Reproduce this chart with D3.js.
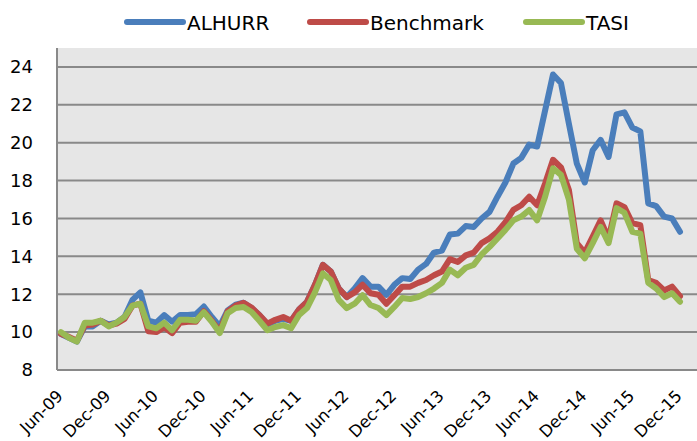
<!DOCTYPE html>
<html><head><meta charset="utf-8">
<script src="https://cdn.jsdelivr.net/npm/d3@7"></script>
<style>body{margin:0;background:#fff}svg text{font-family:"DejaVu Sans",Verdana,sans-serif;fill:#000}</style>
</head><body><svg id="c" width="697" height="441"></svg>
<script>
const months = (function(){const m=["Jan","Feb","Mar","Apr","May","Jun","Jul","Aug","Sep","Oct","Nov","Dec"];const out=[];for(let y=2009,k=5;out.length<79;){out.push(m[k]+"-"+String(y).slice(2));k++;if(k===12){k=0;y++;}}return out;})();
const xTickLabels = ["Jun-09","Dec-09","Jun-10","Dec-10","Jun-11","Dec-11","Jun-12","Dec-12","Jun-13","Dec-13","Jun-14","Dec-14","Jun-15","Dec-15"];
const yTicks = [8,10,12,14,16,18,20,22,24];
const seriesNames = ["ALHURR","Benchmark","TASI"];
const seriesColors = ["#4A7EBB","#BE4B48","#98B954"];
const alhurr = [9.9,9.7,9.5,10.3,10.3,10.6,10.4,10.5,10.8,11.7,12.1,10.6,10.5,10.9,10.55,10.9,10.9,10.95,11.35,10.8,10.3,11.15,11.45,11.55,11.27,10.9,10.4,10.6,10.7,10.6,11.2,11.6,12.5,13.55,13.2,12.3,11.85,12.3,12.85,12.4,12.4,11.97,12.5,12.85,12.8,13.3,13.6,14.2,14.3,15.15,15.2,15.6,15.55,16.0,16.35,17.15,17.9,18.9,19.2,19.9,19.8,21.7,23.6,23.15,21.0,18.9,17.9,19.6,20.15,19.25,21.5,21.6,20.8,20.6,16.8,16.65,16.1,16.0,15.3];
const benchmark = [9.9,9.75,9.55,10.35,10.4,10.6,10.35,10.45,10.7,11.4,11.5,10.05,10.0,10.25,9.95,10.5,10.55,10.55,11.1,10.6,10.05,11.1,11.4,11.55,11.3,10.9,10.45,10.65,10.8,10.6,11.2,11.6,12.5,13.55,13.2,12.3,11.85,12.1,12.5,12.05,11.97,11.5,11.95,12.4,12.4,12.6,12.75,13.0,13.2,13.85,13.7,14.05,14.2,14.7,14.95,15.3,15.8,16.45,16.7,17.15,16.7,17.85,19.1,18.7,17.5,14.7,14.2,15.05,15.9,14.95,16.8,16.6,15.75,15.65,12.75,12.6,12.2,12.4,11.9];
const tasi = [10.0,9.7,9.5,10.5,10.5,10.6,10.3,10.5,10.8,11.4,11.5,10.3,10.2,10.5,10.1,10.65,10.65,10.6,11.05,10.55,9.95,11.0,11.27,11.33,11.06,10.6,10.1,10.27,10.37,10.2,10.9,11.27,12.1,13.1,12.75,11.7,11.27,11.5,11.95,11.43,11.27,10.9,11.33,11.8,11.75,11.85,12.05,12.3,12.6,13.3,13.0,13.4,13.55,14.1,14.5,14.95,15.4,15.9,16.1,16.45,15.9,17.15,18.65,18.3,17.0,14.4,13.9,14.7,15.55,14.7,16.55,16.3,15.3,15.2,12.6,12.3,11.85,12.05,11.6];
const series = [alhurr, benchmark, tasi];

const svg = d3.select("#c");
const plot = {l:57, r:697, t:48, b:370};
const x = d3.scalePoint().domain(months).range([61, 680]);
const y = d3.scaleLinear().domain([8,25]).range([plot.b, plot.t]);

svg.append("rect").attr("x",plot.l).attr("y",plot.t).attr("width",plot.r-plot.l).attr("height",plot.b-plot.t).attr("fill","#e6e6e6");

// gridlines
svg.append("g").selectAll("line").data(yTicks.filter(d=>d>8)).join("line")
  .attr("x1",plot.l).attr("x2",plot.r).attr("y1",d=>y(d)).attr("y2",d=>y(d))
  .attr("stroke","#898989").attr("stroke-width",2);

// axes lines
svg.append("line").attr("x1",plot.l).attr("x2",plot.r).attr("y1",plot.b).attr("y2",plot.b).attr("stroke","#898989").attr("stroke-width",2);
svg.append("line").attr("x1",plot.l).attr("x2",plot.l).attr("y1",plot.t).attr("y2",plot.b).attr("stroke","#898989").attr("stroke-width",2);

// y labels
const yAxis = d3.axisLeft(y).tickValues(yTicks).tickSize(0).tickPadding(0);
const gy = svg.append("g").attr("transform","translate(33,0)").call(yAxis);
gy.select(".domain").remove();
gy.selectAll("text").attr("font-size","18px").style("font-family",'"DejaVu Sans",Verdana,sans-serif').attr("fill","#000");

// x labels
svg.append("g").selectAll("text").data(xTickLabels).join("text")
  .attr("transform",d=>`translate(${x(d)+3},${plot.b+27}) rotate(-45)`)
  .attr("text-anchor","end").attr("font-size","16.5px").text(d=>d);

// lines
const line = d3.line().x((d,i)=>x(months[i])).y(d=>y(d));
svg.append("g").selectAll("path").data(series).join("path")
  .attr("d",line).attr("fill","none").attr("stroke",(d,i)=>seriesColors[i])
  .attr("stroke-width",6).attr("stroke-linejoin","round").attr("stroke-linecap","round");

// legend
const legX = [127, 310, 526];
const lg = svg.append("g").selectAll("g").data(seriesNames).join("g")
  .attr("transform",(d,i)=>`translate(${legX[i]},22)`);
lg.append("line").attr("x1",0).attr("x2",56).attr("y1",0).attr("y2",0)
  .attr("stroke",(d,i)=>seriesColors[i]).attr("stroke-width",6).attr("stroke-linecap","round");
lg.append("text").attr("x",60).attr("y",7.5).attr("font-size","20px").text(d=>d);
</script></body></html>
